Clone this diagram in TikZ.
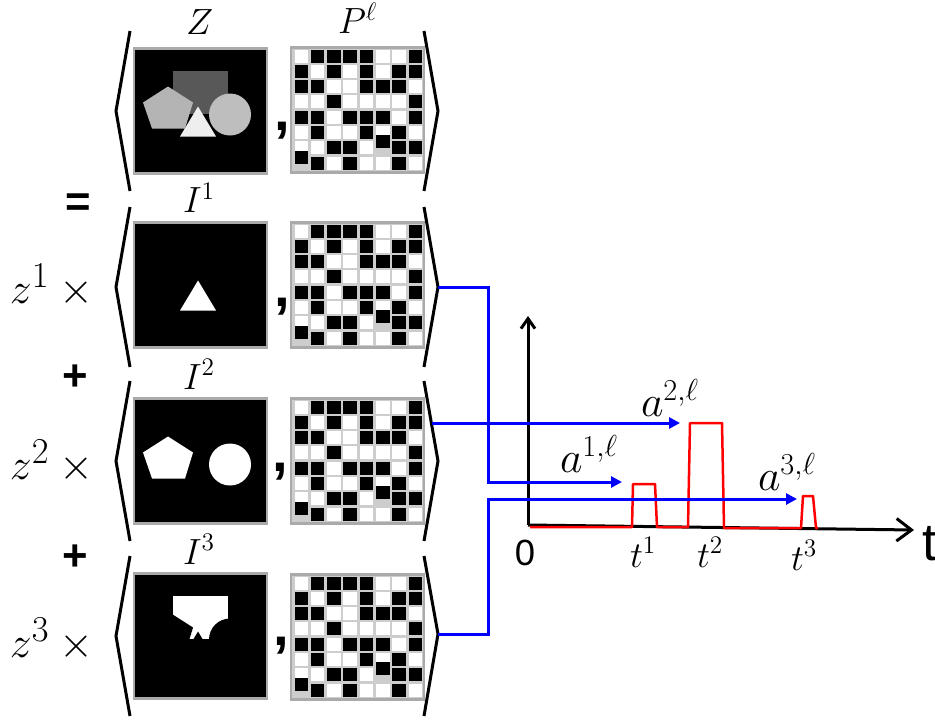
\documentclass[tikz,border=0pt]{standalone}
\usepackage{fontspec}
\setsansfont{Liberation Sans}
\usepackage{amsmath,amssymb}
\usepackage{tikz,xcolor}
\usetikzlibrary{arrows.meta}

\definecolor{boxgray}{RGB}{170,170,170}
\definecolor{patgray}{RGB}{205,205,205}
\definecolor{rectgray}{RGB}{88,88,88}
\definecolor{pentgray}{RGB}{180,180,180}
\definecolor{circgray}{RGB}{190,190,190}
\definecolor{trigray}{RGB}{238,238,238}

% 0 white, 1 black, 2 black moved up
\def\masklist{{0,1,1,1,1,0,0,1},{1,0,1,0,1,0,1,1},{1,1,0,0,1,1,1,0},{0,0,1,0,0,0,0,1},{1,1,0,1,1,1,0,1},{0,1,0,0,1,0,1,0},{0,0,1,1,0,2,1,1},{2,1,0,1,0,0,1,0}}

% box, rectangle, pentagon, circle, triangle
\newcommand{\scene}[5]{%
  \begin{scope}[shift={(#1.north west)}]
    \path[fill=#2] (39,22) rectangle (94,65);
    \path[fill=#3] (34,38)--(59,54)--(51,80)--(18,80)--(9,54)--cycle;
    \path[fill=#4] (96,66) circle (21);
    \path[fill=#5] (64,58)--(82,88)--(46,88)--cycle;
  \end{scope}}

\newcommand{\mask}[1]{%
  \begin{scope}[shift={(#1.north west)}]
    \foreach \row [count=\i] in \masklist {
      \foreach \v [count=\j] in \row {
        \ifnum\v=0 \def\cellcol{white}\else\def\cellcol{black}\fi
        \ifnum\v=2 \def\dy{-6}\else\def\dy{0}\fi
        \fill[\cellcol] ({3.5+(\j-1)*16.3},{2+(\i-1)*15.3+\dy}) rectangle +(13.5,13);
      }
    }
  \end{scope}}

\begin{document}
\begin{tikzpicture}[x=0.02cm,y=-0.02cm]
    \useasboundingbox (0,0) rectangle (935,719);
    \tikzstyle{every node}=[inner sep=0pt,outer sep=0pt]
    \tikzstyle{imgbox}=[draw=boxgray,fill=black,line width=0.05cm,minimum width=2.66cm,minimum height=2.5cm]
    \tikzstyle{patbox}=[draw=boxgray,fill=patgray,line width=0.05cm,minimum width=2.66cm,minimum height=2.5cm]
    \tikzstyle{brk}=[line width=0.06cm]
    \tikzstyle{sig}=[blue,line width=0.06cm,-{Triangle[length=0.22cm,width=0.22cm]}]
    \tikzstyle{axis}=[line width=0.06cm]
    \tikzstyle{pulse}=[red,line width=0.05cm,line join=round]

    \node[imgbox](Z) at (200.5,111){};
    \node[patbox](P0) at (357.5,110){};
    \node[imgbox](I1) at (200.5,285){};
    \node[patbox](P1) at (357.5,285){};
    \node[imgbox](I2) at (200.5,461){};
    \node[patbox](P2) at (357.5,461){};
    \node[imgbox](I3) at (200.5,636){};
    \node[patbox](P3) at (357.5,637){};

    \scene{Z}{rectgray}{pentgray}{circgray}{trigray}
    \scene{I1}{none}{none}{none}{white}
    \scene{I2}{none}{white}{white}{none}
    \scene{I3}{white}{black}{black}{black}
    \mask{P0}
    \mask{P1}
    \mask{P2}
    \mask{P3}

    \node[anchor=base west](lZ) at (186,35){\huge $Z$};
    \node[anchor=base west](lP) at (338,34){\huge $P^{\ell}$};
    \node[anchor=base west](l1) at (183,213){\huge $I^1$};
    \node[anchor=base west](l2) at (183,389){\huge $I^2$};
    \node[anchor=base west](l3) at (183,564){\huge $I^3$};

    \node(c0) at (282,131){\sffamily\bfseries\fontsize{32}{34}\selectfont ,};
    \node(c1) at (282,307){\sffamily\bfseries\fontsize{32}{34}\selectfont ,};
    \node(c2) at (280,472){\sffamily\bfseries\fontsize{32}{34}\selectfont ,};
    \node(c3) at (281,646){\sffamily\bfseries\fontsize{32}{34}\selectfont ,};

    \node(eq) at (78,205){\sffamily\bfseries\Huge =};
    \node(pl1) at (75,378){\sffamily\bfseries\Huge +};
    \node(pl2) at (75,558){\sffamily\bfseries\Huge +};
    \node[anchor=base west](z1) at (10,303){\fontsize{32}{36}\selectfont $z^1\times{}$};
    \node[anchor=base west](z2) at (10,479){\fontsize{32}{36}\selectfont $z^2\times{}$};
    \node[anchor=base west](z3) at (10,657){\fontsize{32}{36}\selectfont $z^3\times{}$};

    % brackets
    \coordinate(b1) at (438,287);
    \coordinate(b3) at (438,634);
    \draw[brk](130,31)--(116,111)--(130,191);
    \draw[brk](424,31)--(438,111)--(424,191);
    \draw[brk](130,207)--(116,287)--(130,367);
    \draw[brk](424,207)--(b1)--(424,367);
    \draw[brk](130,381)--(116,461)--(130,541);
    \draw[brk](424,381)--(438,461)--(424,541);
    \draw[brk](130,556)--(116,636)--(130,716);
    \draw[brk](424,556)--(b3)--(424,716);

    % axes and pulses
    \coordinate(O) at (528,525);
    \coordinate(ytop) at (528,316);
    \coordinate(xend) at (914,530);
    \draw[axis,-{Straight Barb[length=0.2cm,width=0.28cm]}](O)--(ytop);
    \draw[axis,-{Straight Barb[length=0.3cm,width=0.45cm]}](O)--(xend);
    \draw[pulse](530,527)--(632,527)--(633,484)--(655,484)--(657,527)--(688,527)--(690,423)--(722,423)--(724,528)--(801,528)--(803,496)--(813,496)--(816,528)--(818,528);

    \coordinate(k1) at (488,482);
    \coordinate(e1) at (622,482);
    \coordinate(s2) at (432,423);
    \coordinate(e2) at (680,423);
    \coordinate(k3) at (488,499);
    \coordinate(e3) at (797,499);
    \draw[sig](b1)-|(k1)--(e1);
    \draw[sig](s2)--(e2);
    \draw[sig](b3)-|(k3)--(e3);

    \node[anchor=base west](a1) at (560,472){\fontsize{23}{26}\selectfont $a^{1,\ell}$};
    \node[anchor=base west](a2) at (641,416){\fontsize{23}{26}\selectfont $a^{2,\ell}$};
    \node[anchor=base west](a3) at (758,490){\fontsize{23}{26}\selectfont $a^{3,\ell}$};
    \node(n0) at (525,553){\sffamily\huge 0};
    \node[anchor=base west](t1) at (630,567){\huge $t^1$};
    \node[anchor=base west](t2) at (697,567){\huge $t^2$};
    \node[anchor=base west](t3) at (791,570){\huge $t^3$};
    \node[anchor=base west](tl) at (922,560){\sffamily\fontsize{30}{32}\selectfont t};

\end{tikzpicture}
\end{document}
